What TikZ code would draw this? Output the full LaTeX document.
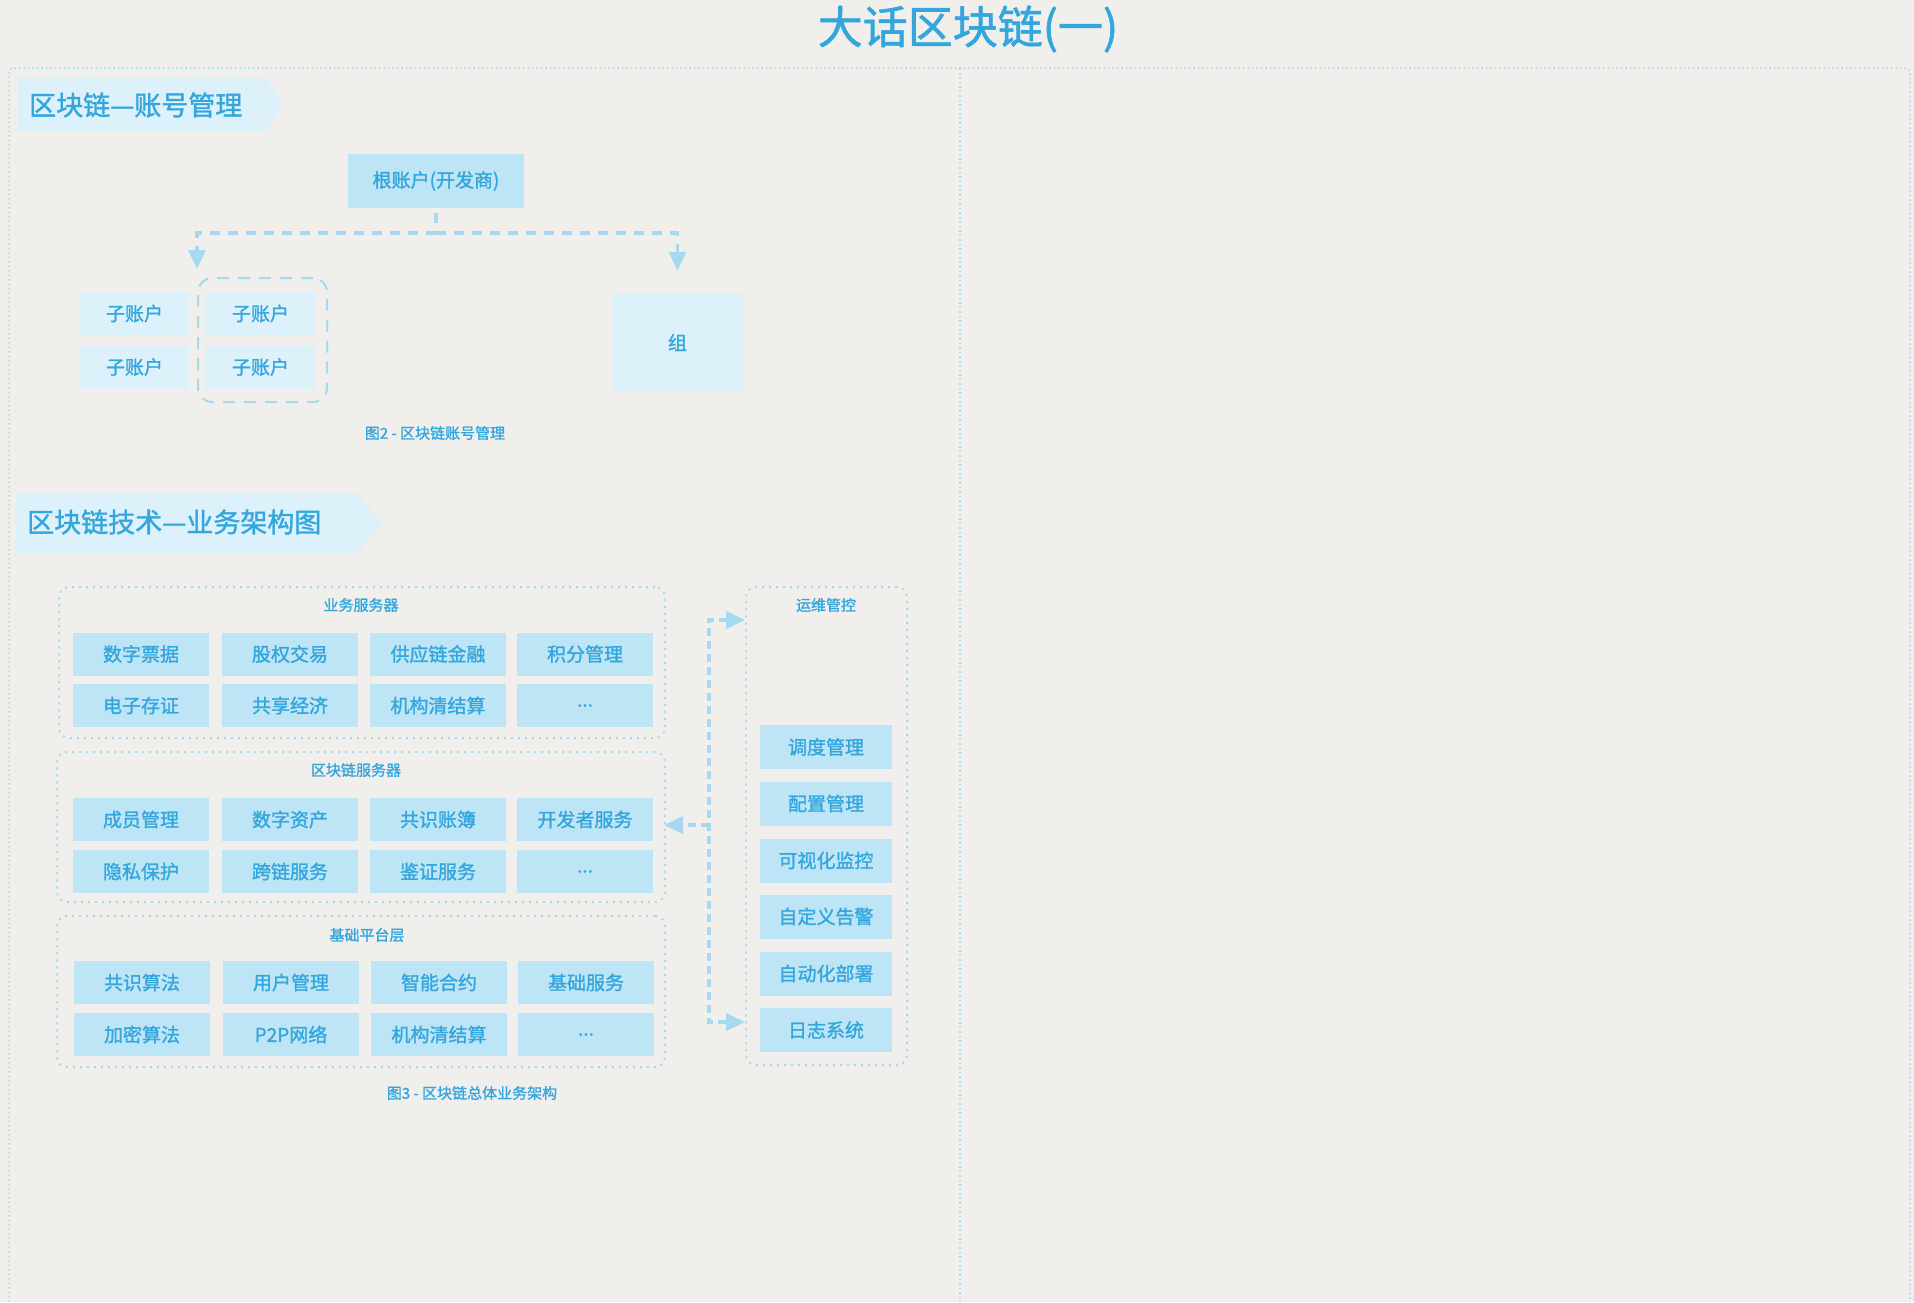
\documentclass[tikz,border=0pt]{standalone}
\usepackage{fontspec}
\setmainfont{Noto Sans CJK SC}[FakeBold=1.3]
\usetikzlibrary{arrows.meta}
\definecolor{paper}{HTML}{F0EFEC}
\definecolor{ink}{HTML}{33A6DD}
\definecolor{cellblue}{HTML}{BDE5F6}
\definecolor{paleblue}{HTML}{DCF1FA}
\definecolor{linkblue}{HTML}{A6D9F0}
\definecolor{framedot}{HTML}{A9D9EE}

\begin{document}
\begin{tikzpicture}[
    x=1pt, y=-1pt,
    >={Triangle[length=19pt,width=17pt]},
    every node/.style={text=ink, inner sep=0pt},
    cell/.style={fill=cellblue, minimum width=136pt, minimum height=43pt, font=\fontsize{19}{19}\selectfont},
    opscell/.style={cell, minimum width=132pt, minimum height=44pt},
    subacct/.style={fill=paleblue, minimum height=43pt, font=\fontsize{19}{19}\selectfont},
    layer/.style={draw=linkblue, line width=2pt, dash pattern=on 2pt off 5pt, rounded corners=10pt},
    tag/.style={font=\fontsize{15}{15}\selectfont},
    caption/.style={font=\fontsize{15}{15}\selectfont},
    banner/.style={fill=paleblue},
    headtext/.style={anchor=west, font=\fontsize{27}{27}\selectfont},
    frame/.style={draw=framedot, line width=1.5pt, dash pattern=on 1.5pt off 3pt},
    link/.style={draw=linkblue, line width=3.5pt, dash pattern=on 10pt off 8pt},
    oplink/.style={draw=linkblue, line width=4pt, dash pattern=on 8pt off 5pt}
]
\useasboundingbox (0,0) rectangle (1914,1302);
\fill[paper] (0,0) rectangle (1914,1302);

% page frame
\draw[frame, rounded corners=4pt] (9,1302) -- (9,68) -- (1910,68) -- (1910,1302);
\draw[frame] (960,68) -- (960,1302);

\node[font=\fontsize{45}{45}\selectfont] (title) at (968,29) {大话区块链(一)};

% account management
\fill[banner] (18,77) -- (265,77) -- (283,104.5) -- (265,132) -- (18,132) -- cycle;
\node[headtext] (hdrAcct) at (29,105) {区块链—账号管理};

\node[cell, minimum width=176pt, minimum height=54pt] (root) at (436,181) {根账户(开发商)};
\node[subacct, minimum width=109pt] (subA1) at (134.5,313.5) {子账户};
\node[subacct, minimum width=109pt] (subA2) at (134.5,367) {子账户};
\node[subacct, minimum width=111pt] (subB1) at (260.5,313.5) {子账户};
\node[subacct, minimum width=111pt] (subB2) at (260.5,367) {子账户};
\node[draw=linkblue, line width=2pt, dash pattern=on 12pt off 9pt, rounded corners=14pt,
      minimum width=129pt, minimum height=124pt] (subgrp) at (262.5,340) {};
\node[subacct, minimum width=131pt, minimum height=99pt] (group) at (677.5,342.5) {组};

\coordinate (bus) at (436,233);
\draw[link, shorten <=5pt] (root.south) -- (bus);
\draw[link, ->, shorten >=8pt] (bus) -| (subgrp.north west);
\draw[link, ->, shorten >=22pt] (bus) -| (group.north);

\node[caption] (capAcct) at (435,433) {图2 - 区块链账号管理};

% business architecture
\fill[banner] (16,493) -- (357,493) -- (383,523) -- (357,553) -- (16,553) -- cycle;
\node[headtext] (hdrArch) at (27,522) {区块链技术—业务架构图};

\node[layer, minimum width=606pt, minimum height=151pt] (bizsrv) at (362,662.5) {};
\node[tag] (bizTag) at (361,605) {业务服务器};
\node[cell] (b1) at (141,654) {数字票据};
\node[cell] (b2) at (290,654) {股权交易};
\node[cell] (b3) at (438,654) {供应链金融};
\node[cell] (b4) at (585,654) {积分管理};
\node[cell] (b5) at (141,705.5) {电子存证};
\node[cell] (b6) at (290,705.5) {共享经济};
\node[cell] (b7) at (438,705.5) {机构清结算};
\node[cell] (b8) at (585,705.5) {...};

\node[layer, minimum width=608pt, minimum height=150pt] (chainsrv) at (361,827) {};
\node[tag] (chainTag) at (356,770) {区块链服务器};
\node[cell] (c1) at (141,819.5) {成员管理};
\node[cell] (c2) at (290,819.5) {数字资产};
\node[cell] (c3) at (438,819.5) {共识账簿};
\node[cell] (c4) at (585,819.5) {开发者服务};
\node[cell] (c5) at (141,871.5) {隐私保护};
\node[cell] (c6) at (290,871.5) {跨链服务};
\node[cell] (c7) at (438,871.5) {鉴证服务};
\node[cell] (c8) at (585,871.5) {...};

\node[layer, minimum width=608pt, minimum height=151pt] (basesrv) at (361,991.5) {};
\node[tag] (baseTag) at (367,935) {基础平台层};
\node[cell] (p1) at (142,982.5) {共识算法};
\node[cell] (p2) at (291,982.5) {用户管理};
\node[cell] (p3) at (439,982.5) {智能合约};
\node[cell] (p4) at (586,982.5) {基础服务};
\node[cell] (p5) at (142,1034.5) {加密算法};
\node[cell] (p6) at (291,1034.5) {P2P网络};
\node[cell] (p7) at (439,1034.5) {机构清结算};
\node[cell] (p8) at (586,1034.5) {...};

\node[layer, minimum width=161pt, minimum height=478pt] (ops) at (826.5,826) {};
\node[tag] (opsTag) at (826,605) {运维管控};
\node[opscell] (o1) at (826,747) {调度管理};
\node[opscell] (o2) at (826,803.5) {配置管理};
\node[opscell] (o3) at (826,860.5) {可视化监控};
\node[opscell] (o4) at (826,916.5) {自定义告警};
\node[opscell] (o5) at (826,973.5) {自动化部署};
\node[opscell] (o6) at (826,1030) {日志系统};

\coordinate (trunkTop) at (709,620);
\coordinate (trunkMid) at (709,825);
\coordinate (trunkBot) at (709,1022);
\draw[oplink, <->] (ops.west |- trunkTop) -- (trunkTop) -- (trunkBot) -- (ops.west |- trunkBot);
\draw[oplink, ->, shorten >=-2pt] (trunkMid) -- (chainsrv.east |- trunkMid);

\node[caption] (capArch) at (472,1093) {图3 - 区块链总体业务架构};
\end{tikzpicture}
\end{document}
